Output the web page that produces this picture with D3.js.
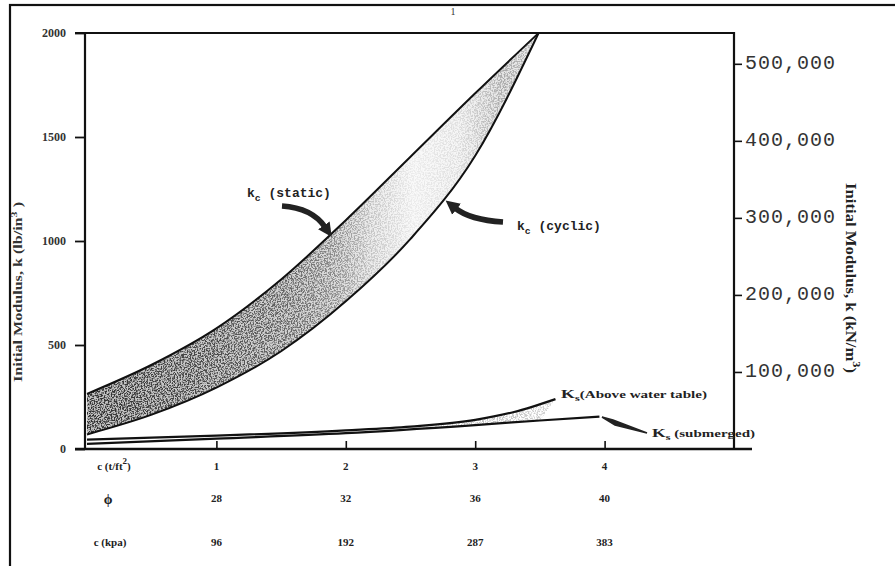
<!DOCTYPE html>
<html><head><meta charset="utf-8">
<script src="https://cdn.jsdelivr.net/npm/d3@7"></script>
<style>body{margin:0;background:#fff}svg{display:block}</style>
</head><body>
<svg id="c" width="895" height="566"></svg>
<script>
// ---- data ----
const cTsf = ["1","2","3","4"];
const cTsfVals = [1,2,3,4];
const phiVals = ["28","32","36","40"];
const cKpa = ["96","192","287","383"];
const leftTicks = [0,500,1000,1500,2000];
const rightTicks = [100000,200000,300000,400000,500000];

const kcX = [0, 0.5, 1.0, 1.5, 2.0, 2.5, 3.0, 3.49];
const kcStatic = [265, 405, 580, 815, 1100, 1405, 1710, 2000];
const kcCyclic = [70, 165, 295, 470, 710, 1010, 1410, 2000];

const ksAboveX = [0, 1, 2, 2.5, 3, 3.3, 3.62];
const ksAbove  = [45, 64, 90, 108, 140, 178, 240];
const ksSubX = [0, 1, 2, 3, 3.5, 3.96];
const ksSub  = [25, 50, 76, 115, 137, 156];

// ---- scales ----
const svg = d3.select("#c");
const x = d3.scaleLinear().domain([0,5]).range([87,734]);
const y = d3.scaleLinear().domain([0,2000]).range([449,33]);
const yR = d3.scaleLinear().domain([0,540000]).range([449,33]);

const defs = svg.append("defs");
const g1 = defs.append("linearGradient").attr("id","bandGrad")
  .attr("gradientUnits","userSpaceOnUse").attr("x1",87).attr("x2",540).attr("y1",0).attr("y2",0);
[[0,"#2e2e2e"],[0.25,"#484848"],[0.45,"#666"],[0.55,"#8a8a8a"],[0.63,"#c4c4c4"],[0.72,"#ececec"],[0.82,"#dedede"],[0.92,"#a8a8a8"],[1,"#c0c0c0"]]
  .forEach(s=>g1.append("stop").attr("offset",s[0]).attr("stop-color",s[1]));
const g2 = defs.append("linearGradient").attr("id","ksGrad")
  .attr("gradientUnits","userSpaceOnUse").attr("x1",87).attr("x2",600).attr("y1",0).attr("y2",0);
[[0,"#ffffff"],[0.6,"#ffffff"],[0.75,"#bdbdbd"],[0.9,"#d0d0d0"],[1,"#ffffff"]]
  .forEach(s=>g2.append("stop").attr("offset",s[0]).attr("stop-color",s[1]));

const f = defs.append("filter").attr("id","speck").attr("x",0).attr("y",0).attr("width",1).attr("height",1);
f.append("feTurbulence").attr("type","fractalNoise").attr("baseFrequency",0.7).attr("numOctaves",2).attr("seed",4).attr("result","n");
f.append("feColorMatrix").attr("in","n").attr("type","matrix")
  .attr("values","0 0 0 0 0  0 0 0 0 0  0 0 0 0 0  5 0 0 0 -2.1").attr("result","a");
f.append("feComposite").attr("in","SourceGraphic").attr("in2","a").attr("operator","in");

const mk = defs.append("marker").attr("id","ah").attr("markerUnits","userSpaceOnUse")
  .attr("markerWidth",16).attr("markerHeight",16).attr("refX",2).attr("refY",8).attr("orient","auto")
  .attr("viewBox","0 0 16 16");
mk.append("path").attr("d","M0,1 L14,8 L0,15 Z").attr("fill","#222");

// frame
svg.append("rect").attr("x",10).attr("y",5).attr("width",900).attr("height",580)
  .attr("fill","none").attr("stroke","#111").attr("stroke-width",2.2);
svg.append("text").attr("x",453).attr("y",15).attr("font-family","Liberation Serif").attr("font-size",10)
  .attr("fill","#333").attr("text-anchor","middle").text("1");

// ---- band ----
const kcData = kcX.map((v,i)=>({x:v, s:kcStatic[i], c:kcCyclic[i]}));
const area = d3.area().x(d=>x(d.x)).y0(d=>y(d.c)).y1(d=>y(d.s)).curve(d3.curveMonotoneX);
svg.append("path").datum(kcData).attr("d",area).attr("fill","url(#bandGrad)").attr("opacity",0.3);
svg.append("path").datum(kcData).attr("d",area).attr("fill","url(#bandGrad)").attr("filter","url(#speck)");

// Ks fill
const lineXY = d3.line().x(d=>x(d[0])).y(d=>y(d[1])).curve(d3.curveMonotoneX);
const ksAbovePts = ksAboveX.map((v,i)=>[v,ksAbove[i]]);
const ksSubPts = ksSubX.map((v,i)=>[v,ksSub[i]]);
const poly = ksAbovePts.concat(ksSubPts.slice(0,-1).reverse());
svg.append("path").attr("d",d3.line().x(d=>x(d[0])).y(d=>y(d[1]))(poly)+"Z")
  .attr("fill","url(#ksGrad)").attr("filter","url(#speck)");

// curves
const lineS = d3.line().x(d=>x(d.x)).y(d=>y(d.s)).curve(d3.curveMonotoneX);
const lineC = d3.line().x(d=>x(d.x)).y(d=>y(d.c)).curve(d3.curveMonotoneX);
svg.append("path").datum(kcData).attr("d",lineS).attr("fill","none").attr("stroke","#111").attr("stroke-width",2);
svg.append("path").datum(kcData).attr("d",lineC).attr("fill","none").attr("stroke","#111").attr("stroke-width",2);
svg.append("path").datum(ksAbovePts).attr("d",lineXY).attr("fill","none").attr("stroke","#111").attr("stroke-width",2.2);
svg.append("path").datum(ksSubPts).attr("d",lineXY).attr("fill","none").attr("stroke","#111").attr("stroke-width",2.2);

// ---- axes ----
const ax = "#111";
const gL = svg.append("g").attr("transform","translate(85,0)")
  .call(d3.axisLeft(y).tickValues(leftTicks).tickSize(10).tickFormat(d3.format("d")));
gL.select(".domain").remove();
gL.selectAll("line").attr("stroke",ax).attr("stroke-width",1.8);
gL.selectAll("text").attr("font-family","Liberation Serif").attr("font-weight","bold").attr("font-size",12)
  .attr("fill","#333").attr("dx",-6);
svg.append("line").attr("x1",85).attr("x2",85).attr("y1",33).attr("y2",449).attr("stroke",ax).attr("stroke-width",2.2);
svg.append("line").attr("x1",75).attr("x2",734).attr("y1",33).attr("y2",33).attr("stroke",ax).attr("stroke-width",2.2);
const gR = svg.append("g").attr("transform","translate(734,0)")
  .call(d3.axisRight(yR).tickValues(rightTicks).tickSize(8).tickFormat(d3.format(",")));
gR.select(".domain").remove();
gR.selectAll("line").attr("stroke",ax).attr("stroke-width",1.6);
gR.selectAll("text").attr("font-family","Liberation Mono").attr("font-size",20).attr("fill","#333")
  .attr("dx",0).attr("dy","0.25em").attr("letter-spacing",1);
svg.append("line").attr("x1",734).attr("x2",734).attr("y1",32).attr("y2",449).attr("stroke",ax).attr("stroke-width",2.2);
const gB = svg.append("g").attr("transform","translate(0,449)")
  .call(d3.axisTop(x).tickValues(cTsfVals).tickSize(8).tickFormat(""));
gB.select(".domain").remove();
gB.selectAll("line").attr("stroke",ax).attr("stroke-width",1.6);
svg.append("line").attr("x1",75).attr("x2",752).attr("y1",449).attr("y2",449).attr("stroke",ax).attr("stroke-width",2.6);

// ---- table rows ----
const tf = "Liberation Serif";
function row(labels, yy){
  svg.append("g").selectAll("text").data(labels).join("text")
    .attr("x",(d,i)=>x(cTsfVals[i])).attr("y",yy).attr("text-anchor","middle")
    .attr("font-family",tf).attr("font-weight","bold").attr("font-size",11).attr("fill","#222").text(d=>d);
}
row(cTsf, 470); row(phiVals, 502); row(cKpa, 546);
const r1 = svg.append("text").attr("x",114).attr("y",470).attr("text-anchor","middle")
  .attr("font-family",tf).attr("font-weight","bold").attr("font-size",11).attr("fill","#222");
r1.append("tspan").text("c (t/ft");
r1.append("tspan").attr("dy",-6).attr("font-size",9).text("2");
r1.append("tspan").attr("dy",6).text(")");
svg.append("text").attr("x",108).attr("y",504).attr("text-anchor","middle")
  .attr("font-family",tf).attr("font-weight","bold").attr("font-size",14).attr("fill","#222").text("ϕ");
svg.append("text").attr("x",110).attr("y",546).attr("text-anchor","middle")
  .attr("font-family",tf).attr("font-weight","bold").attr("font-size",11).attr("fill","#222").text("c (kpa)");

// ---- axis titles ----
const tl = svg.append("text").attr("transform","translate(22,382) rotate(-90)")
  .attr("font-family",tf).attr("font-weight","bold").attr("font-size",12).attr("fill","#333")
  .attr("textLength",180).attr("lengthAdjust","spacingAndGlyphs");
tl.append("tspan").text("Initial Modulus, k (lb/in");
tl.append("tspan").attr("dy",-5).attr("font-size",9).text("3");
tl.append("tspan").attr("dy",5).text(" )");
const tr = svg.append("text").attr("transform","translate(846,183) rotate(90)")
  .attr("font-family",tf).attr("font-weight","bold").attr("font-size",15).attr("fill","#222")
  .attr("textLength",190).attr("lengthAdjust","spacingAndGlyphs");
tr.append("tspan").text("Initial Modulus, k (kN/m");
tr.append("tspan").attr("dy",-7).attr("font-size",11).text("3");
tr.append("tspan").attr("dy",7).text(")");

// ---- annotations ----
const mono = "Liberation Mono";
function kLabel(xx, yy, sub, rest, size){
  const t = svg.append("text").attr("x",xx).attr("y",yy).attr("font-family",mono).attr("font-weight","bold")
    .attr("font-size",size).attr("fill","#222");
  t.append("tspan").text("k");
  t.append("tspan").attr("dy",4).attr("font-size",size*0.75).text(sub);
  t.append("tspan").attr("dy",-4).text(rest);
}
kLabel(247, 197, "c", " (static)", 13);
kLabel(517, 230, "c", " (cyclic)", 13);
svg.append("path").attr("d","M282,206 Q312,208 325,227").attr("fill","none").attr("stroke","#222")
  .attr("stroke-width",5.5).attr("marker-end","url(#ah)");
svg.append("path").attr("d","M503,222 Q470,220 455,208").attr("fill","none").attr("stroke","#222")
  .attr("stroke-width",5.5).attr("marker-end","url(#ah)");

function ksLabel(xx, yy, rest, len){
  const t = svg.append("text").attr("x",xx).attr("y",yy).attr("font-family",tf).attr("font-weight","bold")
    .attr("font-size",11).attr("fill","#222").attr("textLength",len).attr("lengthAdjust","spacingAndGlyphs");
  t.append("tspan").attr("font-size",13).text("K");
  t.append("tspan").attr("dy",3).attr("font-size",9).text("s");
  t.append("tspan").attr("dy",-3).text(rest);
}
ksLabel(561, 398, "(Above water table)", 146);
ksLabel(652, 437, " (submerged)", 103);
svg.append("path").attr("d","M602,417 L615,425 L647,433 L613,420 Z").attr("fill","#222").attr("stroke","#222").attr("stroke-width",1.5);
</script>
</body></html>
